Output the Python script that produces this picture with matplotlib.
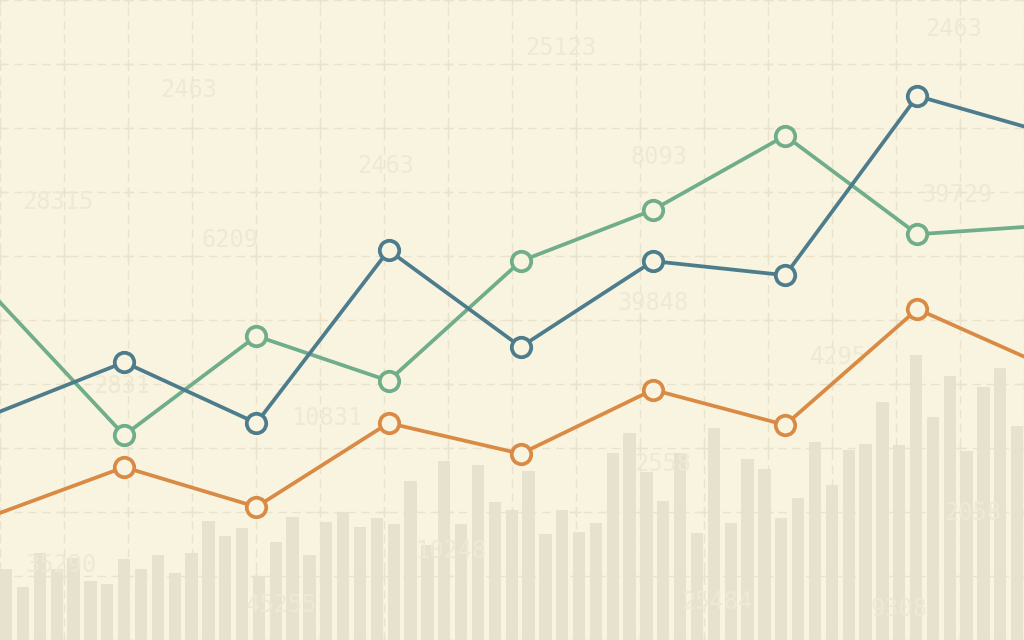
import matplotlib
matplotlib.use("Agg")
import matplotlib.pyplot as plt
import numpy as np

# line series, one value per point (grid units), first/last points sit just off the edges
blue_vals = [3.52, 4.34, 3.39, 6.09, 4.58, 5.92, 5.70, 8.50, 7.91]
green_vals = [5.41, 3.20, 4.75, 4.05, 5.92, 6.72, 7.88, 6.34, 6.48]
orange_vals = [1.94, 2.70, 2.08, 3.39, 2.91, 3.91, 3.36, 5.17, 4.25]

# background bars
bar_vals = [1.11, 0.83, 1.36, 1.11, 1.28, 0.92, 0.88, 1.27, 1.11, 1.33,
            1.05, 1.36, 1.86, 1.63, 1.75, 1.00, 1.53, 1.92, 1.33, 1.84,
            2.00, 1.77, 1.91, 1.81, 2.48, 1.48, 2.80, 1.81, 2.73, 2.16,
            2.03, 2.64, 1.66, 2.03, 1.69, 1.83, 2.92, 3.23, 2.63, 2.17,
            2.92, 1.67, 3.31, 1.83, 2.83, 2.67, 1.91, 2.22, 3.09, 2.42,
            2.97, 3.06, 3.72, 3.05, 4.45, 3.48, 4.13, 2.95, 3.95, 4.25,
            3.34]

# faint decorative numbers
deco_labels = ["2463", "28315", "25123", "2463", "8093", "2463", "6209",
               "39729", "39848", "2831", "10831", "4295", "35290", "10248",
               "45255", "2558", "25484", "9308", "2058"]
deco_pos = [(2.95, 8.6), (0.9, 6.84), (8.77, 9.25), (6.02, 7.4), (10.3, 7.55),
            (14.9, 9.55), (3.6, 6.25), (14.95, 6.95), (10.2, 5.27), (1.9, 3.97),
            (5.1, 3.47), (13.1, 4.42), (0.95, 1.17), (7.05, 1.39), (4.4, 0.54),
            (10.35, 2.75), (11.2, 0.6), (14.05, 0.48), (15.2, 1.98)]

bg = "#f8f4df"
grid_c = "#e9e2cc"
bar_c = "#e6e0cc"
text_c = "#efe9d4"

fig = plt.figure(figsize=(10.24, 6.4), dpi=100, facecolor=bg)

# background axis: 1 unit = 64 px
ax_bg = fig.add_axes([0, 0, 1, 1])
ax_bg.set_facecolor(bg)
ax_bg.set_xlim(0, 16)
ax_bg.set_ylim(0, 10)

for gx in range(0, 17):
    ax_bg.axvline(gx, color=grid_c, lw=1.0, ls=(0, (6, 4)), zorder=1)
for gy in range(0, 11):
    ax_bg.axhline(gy, color=grid_c, lw=1.0, ls=(0, (6, 4)), zorder=1)
gxx, gyy = np.meshgrid(np.arange(0, 17), np.arange(0, 11))
ax_bg.scatter(gxx.ravel(), gyy.ravel(), marker="+", s=50, color=grid_c,
              linewidths=1.0, zorder=1)

pitch = 16.85 / 64
bar_x = (np.arange(len(bar_vals)) + 0.365) * pitch
ax_bg.bar(bar_x, bar_vals, width=0.73 * pitch, color=bar_c, alpha=0.9,
          zorder=2, linewidth=0)

for lab, (tx, ty) in zip(deco_labels, deco_pos):
    ax_bg.text(tx, ty, lab, color=text_c, fontsize=17, family="DejaVu Sans Mono",
               ha="center", va="center", zorder=2)

ax_bg.axis("off")

# line axis: points every 132.2 px, first at -8 px
ax = fig.add_axes([0, 0, 1, 1])
ax.patch.set_alpha(0)
ax.set_xlim(8 / 132.2, 1032 / 132.2)
ax.set_ylim(0, 10)

xs = np.arange(len(blue_vals))
for vals, col in [(orange_vals, "#d98b45"), (green_vals, "#6fad8b"),
                  (blue_vals, "#4d7c8d")]:
    ax.plot(xs, vals, color=col, lw=2.7, marker="o", ms=14,
            mfc=bg, mec=col, mew=2.7, markevery=list(range(1, 8)), zorder=3)

ax.axis("off")

fig.savefig("out.png", dpi=100, facecolor=bg)
